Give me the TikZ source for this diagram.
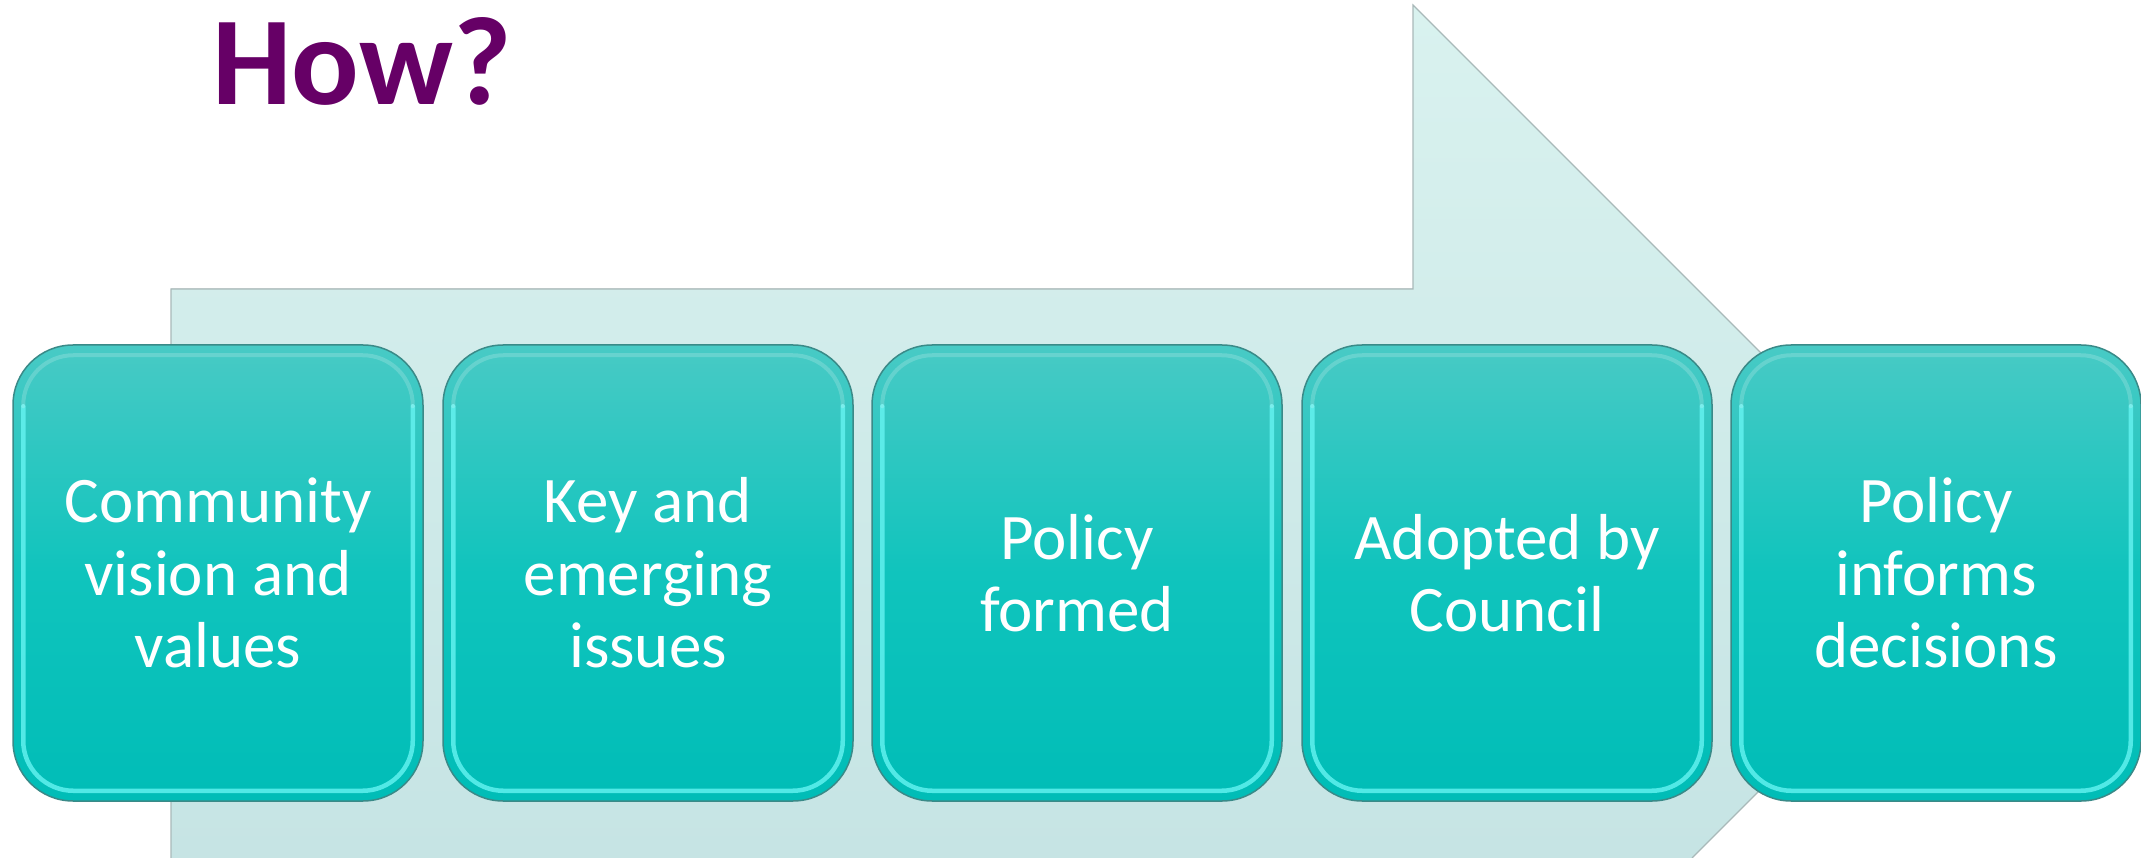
\documentclass[tikz,border=0pt]{standalone}
\usepackage{fontspec}
\setmainfont{Carlito}
\definecolor{arrowtop}{HTML}{D9F2EF}
\definecolor{arrowbot}{HTML}{C6E4E4}
\definecolor{arrowline}{HTML}{A9B9B9}
\definecolor{boxtop}{HTML}{48CAC5}
\definecolor{boxmid}{HTML}{10C4BD}
\definecolor{boxbot}{HTML}{00BDB7}
\definecolor{boxline}{HTML}{3A8A88}
\definecolor{bevelc}{HTML}{66F4F2}
\definecolor{titlec}{HTML}{660066}
\tikzset{
  stepbox/.style={rounded corners=60pt, minimum width=410pt, minimum height=456pt,
    top color=boxtop, bottom color=boxbot, middle color=boxmid,
    draw=boxline, line width=1.5pt, inner sep=0pt},
  bevelside/.style={rounded corners=50pt, draw=bevelc, line width=4.5pt, draw opacity=0.8, line cap=round},
  beveltop/.style={rounded corners=50pt, draw=white, line width=4pt, draw opacity=0.18, line cap=round},
  steptext/.style={text=white, align=center, font=\fontsize{65}{72.5}\selectfont},
}
\begin{document}
\begin{tikzpicture}[x=1pt,y=-1pt]
\useasboundingbox (0,0) rectangle (2141,858);
% big arrow
\coordinate (a1) at (171,858);
\coordinate (a2) at (171,289);
\coordinate (a3) at (1413,289);
\coordinate (a4) at (1413,5);
\coordinate (a5) at (1979,571);
\coordinate (a6) at (1692,858);
\fill[top color=arrowtop, bottom color=arrowbot] (a1) -- (a2) -- (a3) -- (a4) -- (a5) -- (a6) -- cycle;
\draw[arrowline, line width=1.2pt] (a1) -- (a2) -- (a3) -- (a4) -- (a5) -- (a6);
% title
\node[anchor=base, text=titlec, font=\fontsize{126}{130}\selectfont\bfseries] (title) at (362,105) {How?};
% boxes
\foreach \i/\x in {1/218, 2/648, 3/1077, 4/1507, 5/1936} {
  \node[stepbox] (b\i) at (\x,573) {};
  \draw[bevelside] ([xshift=11pt,yshift=-62pt]b\i.north west) -- ([xshift=11pt,yshift=11pt]b\i.south west)
     -- ([xshift=-11pt,yshift=11pt]b\i.south east) -- ([xshift=-11pt,yshift=-62pt]b\i.north east);
  \draw[beveltop] ([xshift=11pt,yshift=-62pt]b\i.north west) -- ([xshift=11pt,yshift=-11pt]b\i.north west)
     -- ([xshift=-11pt,yshift=-11pt]b\i.north east) -- ([xshift=-11pt,yshift=-62pt]b\i.north east);
}
\node[steptext] (t1) at (b1) {Community\\vision and\\values};
\node[steptext] (t2) at (b2) {Key and\\emerging\\issues};
\node[steptext] (t3) at (b3) {Policy\\formed};
\node[steptext] (t4) at (b4) {Adopted by\\Council};
\node[steptext] (t5) at (b5) {Policy\\informs\\decisions};
\end{tikzpicture}
\end{document}
